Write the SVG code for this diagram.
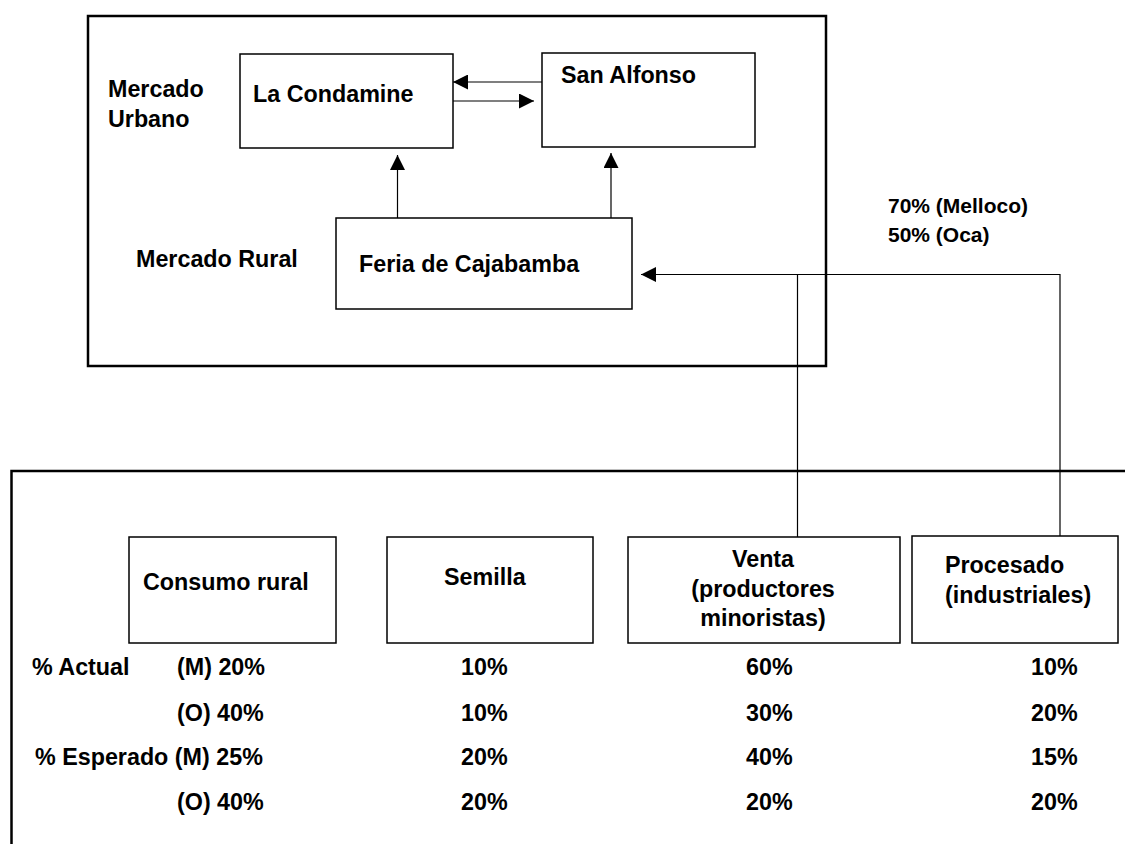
<svg xmlns="http://www.w3.org/2000/svg" width="1125" height="844" viewBox="0 0 1125 844">
<style>
text{font-family:"Liberation Sans",Arial,sans-serif;font-weight:bold;font-size:23.3px;fill:#000}
text.small{font-size:21px}
.frame{fill:none;stroke:#000;stroke-width:2.5}
.box{fill:#fff;stroke:#000;stroke-width:1.5}
.conn{fill:none;stroke:#000;stroke-width:1.2}
</style>
<defs>
<marker id="ah" viewBox="0 0 15 15" refX="15" refY="7.5" markerWidth="15" markerHeight="15" markerUnits="userSpaceOnUse" orient="auto">
<path d="M0,0 L15,7.5 L0,15 Z" fill="#000"/>
</marker>
</defs>
<rect class="frame" x="88" y="16" width="738" height="350"/>
<path class="frame" d="M11.5,844 V471 H1125"/>
<text x="108" y="97">Mercado</text>
<text x="108" y="127">Urbano</text>
<text x="136" y="267">Mercado Rural</text>
<text class="small" x="888" y="213">70% (Melloco)</text>
<text class="small" x="888" y="242">50% (Oca)</text>
<g id="la-condamine"><rect class="box" x="240" y="54" width="213" height="94"/><text x="253" y="102">La Condamine</text></g>
<g id="san-alfonso"><rect class="box" x="542" y="53" width="213" height="94"/><text x="561" y="83">San Alfonso</text></g>
<g id="feria"><rect class="box" x="336" y="218" width="296" height="91"/><text x="359" y="272">Feria de Cajabamba</text></g>
<g id="consumo"><rect class="box" x="129" y="537" width="207" height="106"/><text x="143" y="590">Consumo rural</text></g>
<g id="semilla"><rect class="box" x="387" y="537" width="206" height="106"/><text x="444" y="585">Semilla</text></g>
<g id="venta"><rect class="box" x="628" y="537" width="272" height="106"/><text x="763" y="567" text-anchor="middle">Venta</text><text x="763" y="597" text-anchor="middle">(productores</text><text x="763" y="626" text-anchor="middle">minoristas)</text></g>
<g id="procesado"><rect class="box" x="912" y="536" width="206" height="107"/><text x="945" y="573">Procesado</text><text x="945" y="603">(industriales)</text></g>
<g id="connectors">
<line class="conn" x1="542" y1="82" x2="453" y2="82" marker-end="url(#ah)"/>
<line class="conn" x1="453" y1="101" x2="534" y2="101" marker-end="url(#ah)"/>
<line class="conn" x1="397.5" y1="218" x2="397.5" y2="155" marker-end="url(#ah)"/>
<line class="conn" x1="611" y1="218" x2="611" y2="153" marker-end="url(#ah)"/>
<path class="conn" d="M1060,536 V274.5 H641" marker-end="url(#ah)"/>
<line class="conn" x1="797.5" y1="537" x2="797.5" y2="274.5"/>
</g>
<g id="table">
<text x="32" y="675">% Actual</text>
<text x="177" y="675">(M) 20%</text>
<text x="177" y="721">(O) 40%</text>
<text x="35" y="765">% Esperado (M) 25%</text>
<text x="177" y="810">(O) 40%</text>
<text x="461" y="675">10%</text>
<text x="461" y="721">10%</text>
<text x="461" y="765">20%</text>
<text x="461" y="810">20%</text>
<text x="746" y="675">60%</text>
<text x="746" y="721">30%</text>
<text x="746" y="765">40%</text>
<text x="746" y="810">20%</text>
<text x="1031" y="675">10%</text>
<text x="1031" y="721">20%</text>
<text x="1031" y="765">15%</text>
<text x="1031" y="810">20%</text>
</g>
</svg>
